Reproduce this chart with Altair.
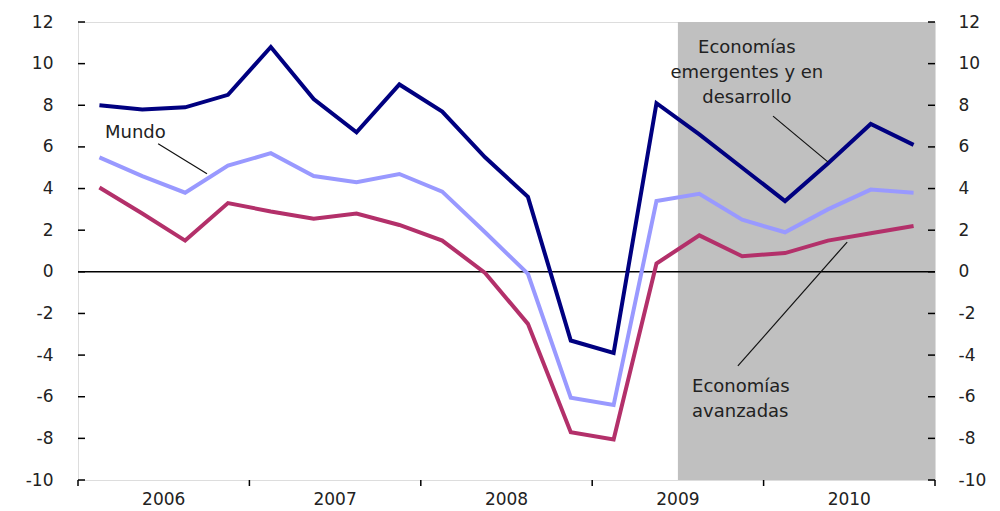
import altair as alt
import pandas as pd

# Quarterly data 2006Q1 .. 2010Q4
quarters = [f"{y}T{q}" for y in range(2006, 2011) for q in range(1, 5)]
emergentes = [8.0, 7.8, 7.9, 8.5, 10.8, 8.3, 6.7, 9.0, 7.7, 5.5,
              3.6, -3.3, -3.9, 8.1, 6.6, 5.0, 3.4, 5.2, 7.1, 6.1]
mundo = [5.5, 4.6, 3.8, 5.1, 5.7, 4.6, 4.3, 4.7, 3.85, 1.9,
         -0.1, -6.05, -6.4, 3.4, 3.75, 2.5, 1.9, 3.0, 3.95, 3.8]
avanzadas = [4.05, 2.8, 1.5, 3.3, 2.9, 2.55, 2.8, 2.25, 1.5, -0.05,
             -2.5, -7.7, -8.05, 0.4, 1.75, 0.75, 0.9, 1.5, 1.85, 2.2]

series_names = ["Economías emergentes y en desarrollo", "Mundo", "Economías avanzadas"]
series_colors = ["#000080", "#9999FF", "#B3306A"]

years = ["2006", "2007", "2008", "2009", "2010"]
year_centers = [2, 6, 10, 14, 18]
year_bounds = [0, 4, 8, 12, 16, 20]
y_ticks = [-10, -8, -6, -4, -2, 0, 2, 4, 6, 8, 10, 12]

# projection shading starts at 2009T3 (quarter index 14)
shade_start = 14
shade_end = 20

W, H = 857, 458
FONT = "DejaVu Sans"
TXT = "#222222"

rows = []
for name, vals in zip(series_names, [emergentes, mundo, avanzadas]):
    for i, v in enumerate(vals):
        rows.append({"serie": name, "t": i + 0.5, "v": v, "q": quarters[i]})
df = pd.DataFrame(rows)

xs = alt.Scale(domain=[0, 20], nice=False, zero=False)
ys = alt.Scale(domain=[-10, 12], nice=False, zero=False)

def yenc(field):
    return alt.Y(field, scale=ys, axis=None)

shade = alt.Chart(pd.DataFrame({"a": [shade_start], "b": [shade_end], "lo": [-10], "hi": [12]})).mark_rect(
    color="#C0C0C0").encode(
    x=alt.X("a:Q", scale=xs, axis=None),
    x2="b:Q",
    y=alt.Y("lo:Q", scale=ys, axis=alt.Axis(values=y_ticks, ticks=False, domain=False, grid=False,
                                             title=None, labelPadding=25, labelFont=FONT,
                                             labelFontSize=17, labelColor=TXT, orient="left",
                                             labelExpr="'' + datum.value")),
    y2="hi:Q",
)

zero = alt.Chart(pd.DataFrame({"z": [0]})).mark_rule(color="black", strokeWidth=1.5).encode(
    y=yenc("z:Q"))

lines = alt.Chart(df).mark_line(strokeWidth=4, strokeJoin="miter").encode(
    x=alt.X("t:Q", scale=xs, axis=None),
    y=yenc("v:Q"),
    color=alt.Color("serie:N", scale=alt.Scale(domain=series_names, range=series_colors), legend=None),
    detail="serie:N",
)

# right y axis with labels
right_axis = alt.Chart(pd.DataFrame({"v": y_ticks})).mark_point(opacity=0).encode(
    y=alt.Y("v:Q", scale=ys, axis=alt.Axis(orient="right", values=y_ticks, ticks=False, domain=False,
                                            grid=False, title=None, labelPadding=23, labelFont=FONT,
                                            labelFontSize=17, labelColor=TXT, labelAlign="left",
                                            labelExpr="'' + datum.value")),
    x=alt.value(0),
)

# inward tick marks on both y axes
ytick_df = pd.DataFrame({"v": y_ticks})
lticks = alt.Chart(ytick_df).mark_rule(color="black", strokeWidth=1.5).encode(
    y=yenc("v:Q"), x=alt.value(0), x2=alt.value(7))
rticks = alt.Chart(ytick_df).mark_rule(color="black", strokeWidth=1.5).encode(
    y=yenc("v:Q"), x=alt.value(W - 7), x2=alt.value(W))

# x ticks at year boundaries (outward)
xticks = alt.Chart(pd.DataFrame({"b": year_bounds})).mark_rule(color="black", strokeWidth=1.5).encode(
    x=alt.X("b:Q", scale=xs, axis=None), y=alt.value(H), y2=alt.value(H + 6))

# year labels
year_df = pd.DataFrame({"c": year_centers, "lab": years})
year_txt = alt.Chart(year_df).mark_text(font=FONT, fontSize=17, color=TXT, baseline="top").encode(
    x=alt.X("c:Q", scale=xs, axis=None), y=alt.value(H + 12), text="lab:N")

# annotations (y = first line position)
ann_x = [0.63, 15.61, 14.33]
ann_y = [6.67, 10.75, -5.53]
ann_txt = [["Mundo"], ["Economías", "emergentes y en", "desarrollo"], ["Economías", "avanzadas"]]
ann_df = pd.DataFrame({"x": ann_x, "y": ann_y, "txt": ann_txt})

def ann(idx, align):
    return alt.Chart(ann_df.iloc[[idx]]).mark_text(font=FONT, fontSize=18, color=TXT, align=align,
                                                   baseline="middle", lineHeight=25).encode(
        x=alt.X("x:Q", scale=xs, axis=None), y=yenc("y:Q"), text="txt")

ann_mundo = ann(0, "left")
ann_em = ann(1, "center")
ann_av = ann(2, "left")

leader_df = pd.DataFrame({
    "x1": [1.87, 16.22, 15.40],
    "y1": [6.15, 7.48, -4.52],
    "x2": [3.01, 17.50, 17.95],
    "y2": [4.71, 5.28, 1.43],
})
leaders = alt.Chart(leader_df).mark_rule(color="#111111", strokeWidth=1.2).encode(
    x=alt.X("x1:Q", scale=xs, axis=None), y=yenc("y1:Q"), x2="x2:Q", y2="y2:Q")

chart = alt.layer(
    shade, zero, lines, leaders, ann_mundo, ann_em, ann_av, lticks, rticks, xticks, year_txt, right_axis
).resolve_axis(y="independent").properties(
    width=W, height=H,
    padding={"left": 70, "top": 14, "right": 57, "bottom": 30},
    autosize="none",
).configure_view(stroke="black", strokeWidth=2).configure(background="white")

chart.save("out.html", embed_options={"renderer": "svg", "actions": False})
